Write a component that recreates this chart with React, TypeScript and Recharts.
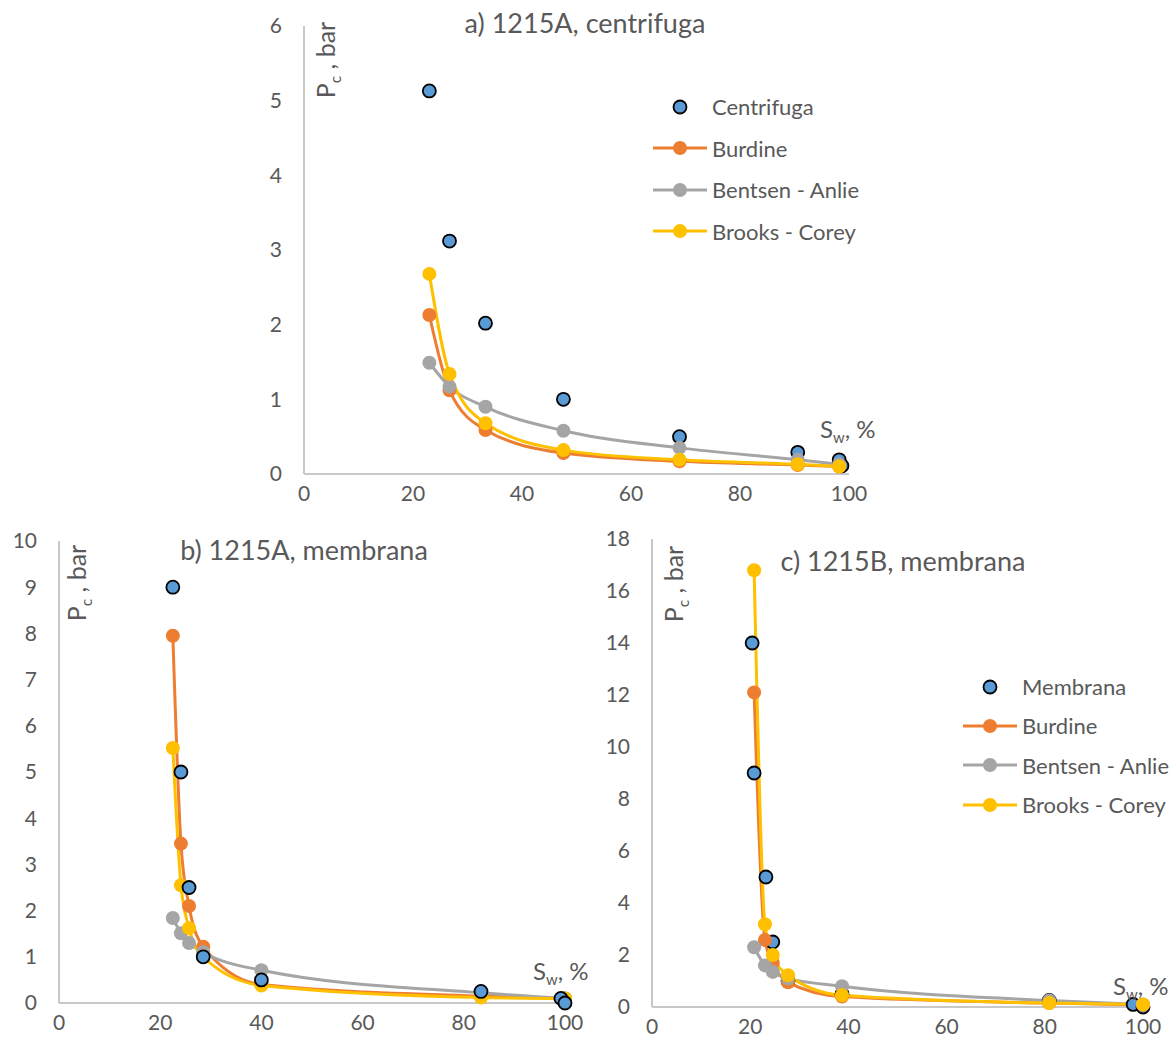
import { ComposedChart, Line, Scatter, XAxis, YAxis, Legend } from 'recharts';

const FONT = 'Lato, "Open Sans", sans-serif';
const TEXT = '#595959';
const AXIS = '#C8C8C8';
const BLUE = '#5B9BD5';
const ORANGE = '#ED7D31';
const GRAY = '#A5A5A5';
const YELLOW = '#FFC000';

const xTicks = [0, 20, 40, 60, 80, 100];

// a) 1215A, centrifuga
const swA = [23.0, 26.7, 33.3, 47.6, 68.9, 90.6, 98.2, 98.7];
const centrifugaA = [5.13, 3.12, 2.02, 1.0, 0.5, 0.29, 0.19, 0.11];
const swModelA = [23.0, 26.7, 33.3, 47.6, 68.9, 90.6, 98.2];
const burdineA = [2.13, 1.12, 0.59, 0.28, 0.17, 0.12, 0.1];
const bentsenA = [1.49, 1.17, 0.9, 0.58, 0.35, 0.19, 0.13];
const brooksA = [2.68, 1.34, 0.68, 0.32, 0.19, 0.13, 0.1];
const yTicksA = [0, 1, 2, 3, 4, 5, 6];

// b) 1215A, membrana
const swB = [22.5, 24.1, 25.7, 28.5, 40.0, 83.4, 99.2, 100];
const membranaB = [9.0, 5.0, 2.5, 1.0, 0.5, 0.25, 0.1, 0.0];
const swModelB = [22.5, 24.1, 25.7, 28.5, 40.0, 83.4, 100];
const burdineB = [7.95, 3.45, 2.1, 1.22, 0.4, 0.15, 0.1];
const bentsenB = [1.84, 1.51, 1.3, 1.1, 0.71, 0.22, 0.1];
const brooksB = [5.52, 2.55, 1.62, 1.0, 0.38, 0.12, 0.1];
const yTicksB = [0, 1, 2, 3, 4, 5, 6, 7, 8, 9, 10];

// c) 1215B, membrana
const swC = [20.4, 20.8, 23.2, 24.6, 27.7, 38.7, 80.9, 98.0, 100];
const membranaC = [14, 9, 5, 2.5, 1, 0.5, 0.25, 0.1, 0];
const swModelC = [20.8, 23.0, 24.6, 27.7, 38.7, 80.9, 100];
const burdineC = [12.1, 2.58, 1.7, 0.95, 0.4, 0.15, 0.08];
const bentsenC = [2.3, 1.6, 1.35, 1.1, 0.8, 0.25, 0.1];
const brooksC = [16.8, 3.18, 2.0, 1.22, 0.45, 0.15, 0.1];
const yTicksC = [0, 2, 4, 6, 8, 10, 12, 14, 16, 18];

const modelNames = ['Burdine', 'Bentsen - Anlie', 'Brooks - Corey'];
const modelColors = [ORANGE, GRAY, YELLOW];

function zip(xs: number[], ys: number[]) {
  return ys.map((pc, i) => ({ sw: xs[i], pc }));
}

interface Pt { x: number; y: number }

interface Props {
  box: { left: number; top: number; width: number; height: number };
  margin: { top: number; right: number; bottom: number; left: number };
  yAxisWidth: number;
  xAxisHeight: number;
  yMax: number;
  yTicks: number[];
  measured: { sw: number; pc: number }[];
  models: { sw: number; pc: number }[][];
  title: string;
  titlePos: Pt;
  pcPos: Pt;
  swPos: Pt;
  legend?: { name: string; x: number; y: number; rowH: number };
}

function Dot(props: any) {
  const { cx, cy } = props;
  if (cx == null || cy == null) return null;
  return <circle cx={cx} cy={cy} r={6.5} fill={BLUE} stroke="#000" strokeWidth={1.8} />;
}

function LegendBox({ name, rowH }: { name: string; rowH: number }) {
  const rows = [{ name, color: BLUE, line: false }].concat(
    modelNames.map((n, i) => ({ name: n, color: modelColors[i], line: true }))
  );
  return (
    <div style={{ fontFamily: FONT, fontSize: 22, color: TEXT }}>
      {rows.map((r) => (
        <div key={r.name} style={{ display: 'flex', alignItems: 'center', height: rowH, whiteSpace: 'nowrap' }}>
          <svg width={59} height={16} style={{ flex: 'none' }}>
            {r.line && <line x1={0} y1={8} x2={54} y2={8} stroke={r.color} strokeWidth={3} />}
            {r.line ? (
              <circle cx={27} cy={8} r={7} fill={r.color} />
            ) : (
              <circle cx={27} cy={8} r={6.5} fill={BLUE} stroke="#000" strokeWidth={1.8} />
            )}
          </svg>
          <span>{r.name}</span>
        </div>
      ))}
    </div>
  );
}

function PcChart(p: Props) {
  const tick = { fill: TEXT, fontSize: 21, fontFamily: FONT };
  const sub = { fontSize: '0.62em', verticalAlign: 'sub' as const };
  return (
    <div style={{ position: 'absolute', left: p.box.left, top: p.box.top, width: p.box.width, height: p.box.height }}>
      <ComposedChart width={p.box.width} height={p.box.height} margin={p.margin}>
        <XAxis
          type="number"
          dataKey="sw"
          domain={[0, 100]}
          ticks={xTicks}
          height={p.xAxisHeight}
          axisLine={{ stroke: AXIS, strokeWidth: 2 }}
          tickLine={false}
          tickSize={0}
          tickMargin={12}
          tick={tick}
          interval={0}
        />
        <YAxis
          type="number"
          dataKey="pc"
          domain={[0, p.yMax]}
          ticks={p.yTicks}
          width={p.yAxisWidth}
          axisLine={{ stroke: AXIS, strokeWidth: 2 }}
          tickLine={false}
          tickSize={0}
          tickMargin={22}
          tick={tick}
          interval={0}
        />
        {p.models.map((d, i) => (
          <Line
            key={modelNames[i]}
            data={d}
            dataKey="pc"
            name={modelNames[i]}
            type="monotone"
            stroke={modelColors[i]}
            strokeWidth={3}
            dot={{ r: 7, fill: modelColors[i], stroke: 'none' }}
            activeDot={false}
            isAnimationActive={false}
          />
        ))}
        <Scatter data={p.measured} dataKey="pc" name={p.legend ? p.legend.name : 'Membrana'} shape={Dot} isAnimationActive={false} />
        {p.legend && (
          <Legend
            layout="vertical"
            align="center"
            verticalAlign="middle"
            wrapperStyle={{ left: p.legend.x, top: p.legend.y, width: 240 }}
            content={() => <LegendBox name={p.legend!.name} rowH={p.legend!.rowH} />}
          />
        )}
      </ComposedChart>
      <div
        style={{
          position: 'absolute',
          left: p.titlePos.x,
          top: p.titlePos.y,
          transform: 'translate(-50%, -50%)',
          fontFamily: FONT,
          fontSize: 27,
          color: TEXT,
          whiteSpace: 'nowrap',
        }}
      >
        {p.title}
      </div>
      <div
        style={{
          position: 'absolute',
          left: p.pcPos.x,
          top: p.pcPos.y,
          transform: 'translate(-50%, -50%) rotate(-90deg)',
          fontFamily: FONT,
          fontSize: 25,
          color: TEXT,
          whiteSpace: 'nowrap',
        }}
      >
        P<span style={sub}>c</span> , bar
      </div>
      <div
        style={{
          position: 'absolute',
          left: p.swPos.x,
          top: p.swPos.y,
          transform: 'translateY(-50%)',
          fontFamily: FONT,
          fontSize: 24,
          color: TEXT,
          whiteSpace: 'nowrap',
        }}
      >
        S<span style={sub}>w</span>, %
      </div>
    </div>
  );
}

export default function App() {
  return (
    <div style={{ position: 'absolute', left: 0, top: 0, width: 1172, height: 1048, background: '#fff' }}>
      <PcChart
        box={{ left: 250, top: 0, width: 640, height: 520 }}
        margin={{ top: 26, right: 41, bottom: 10, left: 10 }}
        yAxisWidth={44}
        xAxisHeight={36}
        yMax={6}
        yTicks={yTicksA}
        measured={zip(swA, centrifugaA)}
        models={[zip(swModelA, burdineA), zip(swModelA, bentsenA), zip(swModelA, brooksA)]}
        title="a) 1215A, centrifuga"
        titlePos={{ x: 335, y: 22 }}
        pcPos={{ x: 77, y: 60 }}
        swPos={{ x: 570, y: 430 }}
        legend={{ name: 'Centrifuga', x: 403, y: 86, rowH: 41.5 }}
      />
      <PcChart
        box={{ left: 0, top: 505, width: 600, height: 545 }}
        margin={{ top: 36, right: 35, bottom: 10, left: 10 }}
        yAxisWidth={49}
        xAxisHeight={37}
        yMax={10}
        yTicks={yTicksB}
        measured={zip(swB, membranaB)}
        models={[zip(swModelB, burdineB), zip(swModelB, bentsenB), zip(swModelB, brooksB)]}
        title="b) 1215A, membrana"
        titlePos={{ x: 304, y: 44 }}
        pcPos={{ x: 78, y: 78 }}
        swPos={{ x: 533, y: 467 }}
      />
      <PcChart
        box={{ left: 600, top: 505, width: 572, height: 545 }}
        margin={{ top: 34, right: 29, bottom: 10, left: 10 }}
        yAxisWidth={42}
        xAxisHeight={33}
        yMax={18}
        yTicks={yTicksC}
        measured={zip(swC, membranaC)}
        models={[zip(swModelC, burdineC), zip(swModelC, bentsenC), zip(swModelC, brooksC)]}
        title="c) 1215B, membrana"
        titlePos={{ x: 303, y: 55 }}
        pcPos={{ x: 75, y: 79 }}
        swPos={{ x: 513, y: 482 }}
        legend={{ name: 'Membrana', x: 363, y: 162, rowH: 39.3 }}
      />
    </div>
  );
}
